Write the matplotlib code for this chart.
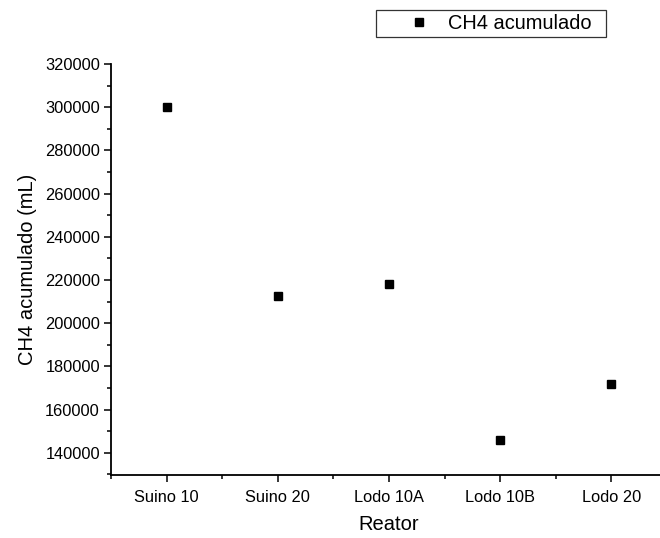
import matplotlib.pyplot as plt
from matplotlib.patches import Rectangle
from matplotlib.ticker import MultipleLocator, FixedLocator

plt.rcParams["font.family"] = ["Liberation Sans", "DejaVu Sans"]

reatores = ["Suino 10", "Suino 20", "Lodo 10A", "Lodo 10B", "Lodo 20"]
ch4_acumulado = [300000, 212700, 218000, 146100, 171800]


def main():
    fig = plt.figure(figsize=(6.6, 5.38), dpi=100)
    ax = fig.add_axes([111 / 660, 1 - 475 / 538, (667 - 111) / 660, (475 - 64) / 538])

    x = list(range(1, len(reatores) + 1))
    ax.plot(x, ch4_acumulado, "s", color="black", markersize=6.3, linestyle="none",
            label="CH4 acumulado")

    ax.set_xlim(0.5, 5.5)
    ax.set_ylim(129700, 320000)
    ax.set_xticks(x)
    ax.set_xticklabels(reatores)
    ax.xaxis.set_minor_locator(FixedLocator([0.5 + i for i in range(6)]))
    ax.yaxis.set_major_locator(MultipleLocator(20000))
    ax.yaxis.set_minor_locator(MultipleLocator(10000))
    ax.yaxis.set_major_formatter(lambda v, p: f"{int(v)}" if v >= 140000 else "")

    for side in ("top", "right"):
        ax.spines[side].set_visible(False)
    for side in ("left", "bottom"):
        ax.spines[side].set_linewidth(1.3)
    ax.tick_params(which="major", direction="out", length=5, width=1.1,
                   labelsize=11.8, pad=3)
    ax.tick_params(which="minor", direction="out", length=3, width=1.1)
    ax.tick_params(axis="x", which="major", pad=6)

    ax.set_xlabel("Reator", fontsize=14.5, labelpad=7)
    ax.set_ylabel("CH4 acumulado (mL)", fontsize=14.5, labelpad=6)

    # legend outside the axes, framed like the original
    fig.legend(loc="center left", bbox_to_anchor=(399 / 660, 1 - 23.5 / 538),
               frameon=False, borderpad=0, handlelength=1.0, handletextpad=0.95,
               fontsize=14.4, numpoints=1)
    fig.patches.append(Rectangle((376 / 660, 1 - 37 / 538), 230 / 660, 27 / 538,
                                 transform=fig.transFigure, fill=False,
                                 edgecolor="#333333", linewidth=0.9))

    fig.savefig("out.png", dpi=100)


if __name__ == "__main__":
    main()
